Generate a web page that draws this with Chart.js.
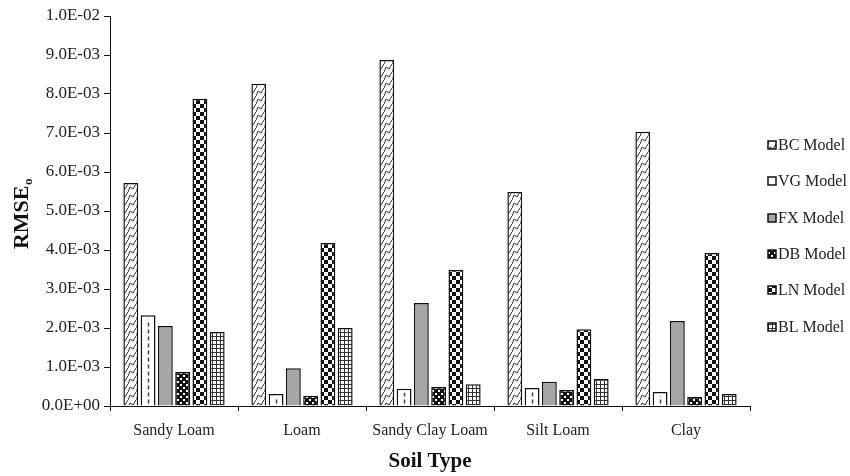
<!DOCTYPE html>
<html>
<head>
<meta charset="utf-8">
<script src="https://cdn.jsdelivr.net/npm/chart.js@4/dist/chart.umd.min.js"></script>
<style>
  html, body { margin: 0; padding: 0; background: #fff; }
  #c { display: block; }
</style>
</head>
<body>
<canvas id="c" width="850" height="476"></canvas>
<script>
// Soil types on the x axis
const soilTypes = ['Sandy Loam', 'Loam', 'Sandy Clay Loam', 'Silt Loam', 'Clay'];
// Model names, one bar series each
const modelNames = ['BC Model', 'VG Model', 'FX Model', 'DB Model', 'LN Model', 'BL Model'];
// RMSE values per model, one entry per soil type
const bcModel = [5.72e-3, 8.26e-3, 8.87e-3, 5.49e-3, 7.03e-3];
const vgModel = [2.33e-3, 0.31e-3, 0.44e-3, 0.46e-3, 0.36e-3];
const fxModel = [2.05e-3, 0.97e-3, 2.64e-3, 0.62e-3, 2.18e-3];
const dbModel = [0.87e-3, 0.26e-3, 0.49e-3, 0.41e-3, 0.23e-3];
const lnModel = [7.88e-3, 4.18e-3, 3.49e-3, 1.97e-3, 3.92e-3];
const blModel = [1.90e-3, 2.00e-3, 0.56e-3, 0.69e-3, 0.31e-3];
// Y axis tick labels in scientific notation
const yTickLabels = ['0.0E+00', '1.0E-03', '2.0E-03', '3.0E-03', '4.0E-03', '5.0E-03',
                     '6.0E-03', '7.0E-03', '8.0E-03', '9.0E-03', '1.0E-02'];

const SERIF = '"Liberation Serif", "Times New Roman", serif';

// ---- fill patterns ----
function makeTile(w, h, draw) {
  const t = document.createElement('canvas');
  t.width = w; t.height = h;
  const g = t.getContext('2d');
  draw(g, w, h);
  return document.getElementById('c').getContext('2d').createPattern(t, 'repeat');
}
const zigzag = makeTile(8, 8, (g, w, h) => {
  g.fillStyle = '#fff'; g.fillRect(0, 0, w, h);
  g.strokeStyle = '#333'; g.lineWidth = 1;
  g.beginPath();
  g.moveTo(0, 8); g.lineTo(2, 3); g.lineTo(5, 5); g.lineTo(8, 0);
  g.stroke();
});
const dots = makeTile(6, 6, (g, w, h) => {
  g.fillStyle = '#111'; g.fillRect(0, 0, w, h);
  g.fillStyle = '#fff';
  g.fillRect(0, 0, 2, 2); g.fillRect(3, 3, 2, 2);
});
const checker = makeTile(8, 8, (g, w, h) => {
  g.fillStyle = '#fff'; g.fillRect(0, 0, w, h);
  g.fillStyle = '#111';
  g.fillRect(0, 0, 4, 4); g.fillRect(4, 4, 4, 4);
});
const grid = makeTile(4, 4, (g, w, h) => {
  g.fillStyle = '#fff'; g.fillRect(0, 0, w, h);
  g.fillStyle = '#333';
  g.fillRect(0, 0, w, 1); g.fillRect(0, 0, 1, h);
});

const fills = [zigzag, '#ffffff', '#a6a6a6', dots, checker, grid];
const series = [bcModel, vgModel, fxModel, dbModel, lnModel, blModel];

const datasets = series.map((vals, i) => ({
  label: modelNames[i],
  data: vals,
  backgroundColor: fills[i],
  borderColor: '#111',
  borderWidth: 1.5,
  categoryPercentage: 0.81,
  barPercentage: 0.86
}));

// dashed centre line inside the VG bars
const vgDashes = {
  id: 'vgDashes',
  afterDatasetsDraw(chart) {
    const ctx = chart.ctx;
    const meta = chart.getDatasetMeta(1);
    ctx.save();
    ctx.strokeStyle = '#444';
    ctx.lineWidth = 1.5;
    ctx.setLineDash([4, 3]);
    meta.data.forEach(el => {
      ctx.beginPath();
      ctx.moveTo(Math.round(el.x) + 0.5, el.base - 2);
      ctx.lineTo(Math.round(el.x) + 0.5, el.y + 4);
      ctx.stroke();
    });
    ctx.restore();
  }
};

// rotated y-axis title with subscript
const yTitle = {
  id: 'yTitle',
  afterDraw(chart) {
    const ctx = chart.ctx;
    ctx.save();
    ctx.translate(28, 214);
    ctx.rotate(-Math.PI / 2);
    ctx.fillStyle = '#111';
    ctx.textBaseline = 'alphabetic';
    ctx.font = 'bold 22px ' + SERIF;
    const main = 'RMSE';
    const mw = ctx.measureText(main).width;
    ctx.font = 'bold 13px ' + SERIF;
    const sw = ctx.measureText('o').width;
    const x0 = -(mw + sw) / 2;
    ctx.font = 'bold 22px ' + SERIF;
    ctx.fillText(main, x0, 0);
    ctx.font = 'bold 13px ' + SERIF;
    ctx.fillText('o', x0 + mw + 0.5, 4);
    ctx.restore();
  }
};

// legend on the right, drawn from the dataset styles
const sideLegend = {
  id: 'sideLegend',
  afterDraw(chart) {
    const ctx = chart.ctx;
    ctx.save();
    ctx.font = '16px ' + SERIF;
    ctx.textBaseline = 'middle';
    chart.data.datasets.forEach((ds, i) => {
      const cy = Math.round(145 + i * 36.3);
      const x = 768, s = 8;
      ctx.fillStyle = ds.backgroundColor;
      ctx.fillRect(x, cy - s / 2, s, s);
      ctx.strokeStyle = '#111';
      ctx.lineWidth = 1.5;
      ctx.strokeRect(x, cy - s / 2, s, s);
      ctx.fillStyle = '#222';
      ctx.fillText(ds.label, x + s + 2, cy + 1);
    });
    ctx.restore();
  }
};

new Chart(document.getElementById('c'), {
  type: 'bar',
  data: { labels: soilTypes, datasets },
  plugins: [vgDashes, yTitle, sideLegend],
  options: {
    responsive: false,
    animation: false,
    devicePixelRatio: 1,
    layout: { padding: { left: 0, right: 100, top: 16, bottom: 0 } },
    plugins: { legend: { display: false }, tooltip: { enabled: false } },
    scales: {
      x: {
        afterFit(scale) { scale.height = 70; },
        grid: { display: true, drawOnChartArea: false, drawTicks: true, tickLength: 5, color: '#111', offset: true },
        border: { display: true, color: '#111', width: 1 },
        ticks: { color: '#222', font: { family: SERIF, size: 16 }, padding: 10, maxRotation: 0 },
        title: { display: true, text: 'Soil Type', color: '#111',
                 font: { family: SERIF, size: 21, weight: 'bold' }, padding: { top: 0, bottom: 2 } }
      },
      y: {
        min: 0, max: 0.01,
        afterFit(scale) { scale.width = 110; },
        grid: { display: true, drawOnChartArea: false, drawTicks: true, tickLength: 6, color: '#111' },
        border: { display: true, color: '#111', width: 1 },
        ticks: {
          stepSize: 0.001,
          color: '#222',
          font: { family: SERIF, size: 17 },
          padding: 4,
          callback: (v, i) => yTickLabels[i]
        }
      }
    }
  }
});
</script>
</body>
</html>
